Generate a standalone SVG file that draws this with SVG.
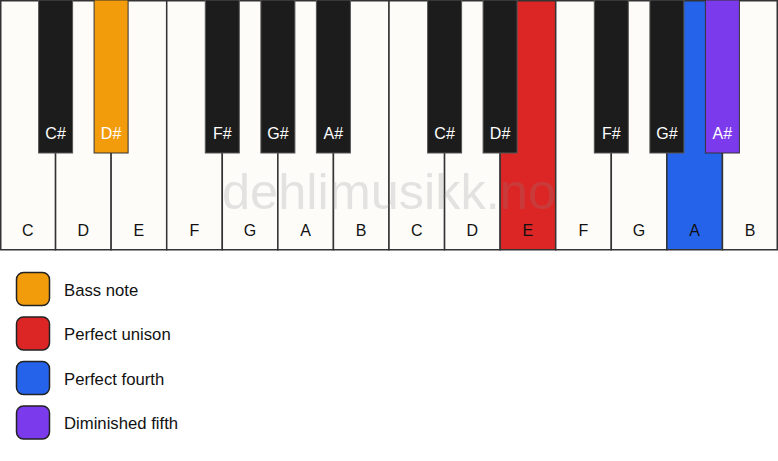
<svg xmlns="http://www.w3.org/2000/svg" width="778" height="461" viewBox="0 0 778 461">
<style>
.w{fill:#fdfcf9;stroke:#333;stroke-width:1.5}
.b{fill:#1c1c1c;stroke:#555;stroke-width:1}
.wl{font-family:"Liberation Sans",Arial,sans-serif;font-size:16px;fill:#111;text-anchor:middle}
.bl{font-family:"Liberation Sans",Arial,sans-serif;font-size:16px;fill:#fff;text-anchor:middle}
.lg{stroke:#222;stroke-width:1.5}
.lt{font-family:"Liberation Sans",Arial,sans-serif;font-size:16.7px;fill:#111}
</style>
<rect x="0" y="0" width="778" height="461" fill="#fff"/>
<g id="white-keys">
<g id="w0"><rect class="w" x="0.75" y="0.75" width="54.82" height="249"/><text class="wl" x="27.8" y="236">C</text></g>
<g id="w1"><rect class="w" x="55.57" y="0.75" width="55.57" height="249"/><text class="wl" x="83.4" y="236">D</text></g>
<g id="w2"><rect class="w" x="111.14" y="0.75" width="55.57" height="249"/><text class="wl" x="138.9" y="236">E</text></g>
<g id="w3"><rect class="w" x="166.71" y="0.75" width="55.57" height="249"/><text class="wl" x="194.5" y="236">F</text></g>
<g id="w4"><rect class="w" x="222.29" y="0.75" width="55.57" height="249"/><text class="wl" x="250.1" y="236">G</text></g>
<g id="w5"><rect class="w" x="277.86" y="0.75" width="55.57" height="249"/><text class="wl" x="305.6" y="236">A</text></g>
<g id="w6"><rect class="w" x="333.43" y="0.75" width="55.57" height="249"/><text class="wl" x="361.2" y="236">B</text></g>
<g id="w7"><rect class="w" x="389" y="0.75" width="55.57" height="249"/><text class="wl" x="416.8" y="236">C</text></g>
<g id="w8"><rect class="w" x="444.57" y="0.75" width="55.57" height="249"/><text class="wl" x="472.4" y="236">D</text></g>
<g id="w9"><rect class="w" x="500.14" y="0.75" width="55.57" height="249" style="fill:#dc2626"/><text class="wl" x="527.9" y="236">E</text></g>
<g id="w10"><rect class="w" x="555.71" y="0.75" width="55.57" height="249"/><text class="wl" x="583.5" y="236">F</text></g>
<g id="w11"><rect class="w" x="611.29" y="0.75" width="55.57" height="249"/><text class="wl" x="639.1" y="236">G</text></g>
<g id="w12"><rect class="w" x="666.86" y="0.75" width="55.57" height="249" style="fill:#2563eb"/><text class="wl" x="694.6" y="236">A</text></g>
<g id="w13"><rect class="w" x="722.43" y="0.75" width="54.82" height="249"/><text class="wl" x="750.2" y="236">B</text></g>
</g>
<g id="watermark"><text x="389" y="209" font-family="'Liberation Sans',Arial,sans-serif" font-size="50.5" fill="#888" fill-opacity="0.22" text-anchor="middle">dehlimusikk.no</text></g>
<g id="black-keys">
<g id="b1"><rect class="b" x="38.6" y="0" width="34" height="153"/><text class="bl" x="55.6" y="139">C#</text></g>
<g id="b2"><rect class="b" x="94.1" y="0" width="34" height="153" style="fill:#f39c0b;stroke:#333"/><text class="bl" x="111.1" y="139">D#</text></g>
<g id="b4"><rect class="b" x="205.3" y="0" width="34" height="153"/><text class="bl" x="222.3" y="139">F#</text></g>
<g id="b5"><rect class="b" x="260.9" y="0" width="34" height="153"/><text class="bl" x="277.9" y="139">G#</text></g>
<g id="b6"><rect class="b" x="316.4" y="0" width="34" height="153"/><text class="bl" x="333.4" y="139">A#</text></g>
<g id="b8"><rect class="b" x="427.6" y="0" width="34" height="153"/><text class="bl" x="444.6" y="139">C#</text></g>
<g id="b9"><rect class="b" x="483.1" y="0" width="34" height="153"/><text class="bl" x="500.1" y="139">D#</text></g>
<g id="b11"><rect class="b" x="594.3" y="0" width="34" height="153"/><text class="bl" x="611.3" y="139">F#</text></g>
<g id="b12"><rect class="b" x="649.9" y="0" width="34" height="153"/><text class="bl" x="666.9" y="139">G#</text></g>
<g id="b13"><rect class="b" x="705.4" y="0" width="34" height="153" style="fill:#7c3aed;stroke:#333"/><text class="bl" x="722.4" y="139">A#</text></g>
</g>
<g id="legend">
<g id="lg1"><rect class="lg" x="16.5" y="272.5" width="33" height="33" rx="7" fill="#f39c0b"/><text class="lt" x="64" y="295.5">Bass note</text></g>
<g id="lg2"><rect class="lg" x="16.5" y="317" width="33" height="33" rx="7" fill="#dc2626"/><text class="lt" x="64" y="340">Perfect unison</text></g>
<g id="lg3"><rect class="lg" x="16.5" y="361.5" width="33" height="33" rx="7" fill="#2563eb"/><text class="lt" x="64" y="384.5">Perfect fourth</text></g>
<g id="lg4"><rect class="lg" x="16.5" y="406" width="33" height="33" rx="7" fill="#7c3aed"/><text class="lt" x="64" y="429">Diminished fifth</text></g>
</g>
</svg>
